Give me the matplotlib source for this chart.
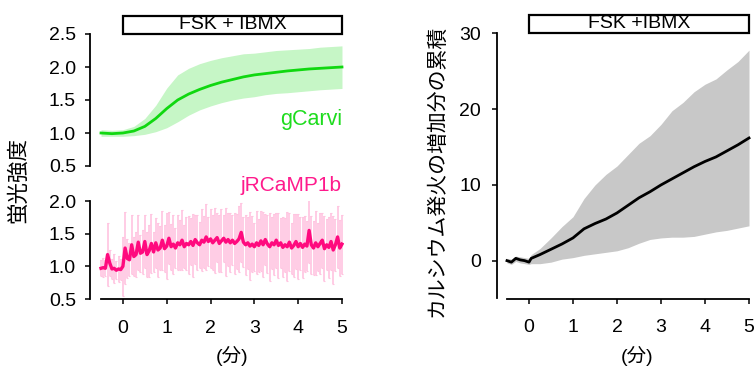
import matplotlib
matplotlib.use('Agg')

import matplotlib.pyplot as plt
import matplotlib.transforms as mtransforms
from matplotlib.patches import Rectangle
import numpy as np

plt.rcParams['font.family'] = ['Liberation Sans', 'Noto Sans CJK JP']

# gCarvi (green) mean and band, every 0.25 min
gc_t = [-0.5, -0.25, 0, 0.25, 0.5, 0.75, 1.0, 1.25, 1.5, 1.75, 2.0, 2.25,
        2.5, 2.75, 3.0, 3.25, 3.5, 3.75, 4.0, 4.25, 4.5, 4.75, 5.0]
gc_mean = [1.00, 0.99, 1.00, 1.03, 1.10, 1.22, 1.37, 1.50, 1.59, 1.66, 1.72, 1.77,
           1.81, 1.85, 1.88, 1.90, 1.92, 1.94, 1.955, 1.97, 1.98, 1.99, 2.00]
gc_upper = [1.05, 1.04, 1.05, 1.10, 1.22, 1.42, 1.68, 1.88, 1.98, 2.05, 2.10, 2.14,
            2.17, 2.20, 2.21, 2.23, 2.25, 2.26, 2.27, 2.28, 2.30, 2.31, 2.32]
gc_lower = [0.95, 0.95, 0.95, 0.96, 0.98, 1.02, 1.08, 1.17, 1.27, 1.35, 1.41, 1.46,
            1.50, 1.53, 1.55, 1.58, 1.60, 1.61, 1.625, 1.64, 1.655, 1.665, 1.675]

# jRCaMP1b (pink) mean and error, every 0.05 min from -0.5
jr_mean = [0.97, 0.98, 0.97, 1.18, 1.05, 0.96, 0.97, 0.94, 0.96, 0.95,
           1.00, 1.28, 1.12, 1.10, 1.33, 1.15, 1.18, 1.37, 1.20, 1.22,
           1.38, 1.18, 1.24, 1.35, 1.22, 1.36, 1.25, 1.28, 1.40, 1.27,
           1.31, 1.43, 1.30, 1.34, 1.28, 1.36, 1.33, 1.40, 1.30, 1.35,
           1.33, 1.38, 1.32, 1.41, 1.36, 1.33, 1.40, 1.37, 1.45, 1.38,
           1.42, 1.36, 1.40, 1.44, 1.35, 1.39, 1.43, 1.37, 1.41, 1.36,
           1.40, 1.35, 1.38, 1.42, 1.52, 1.37, 1.33, 1.36, 1.31, 1.34,
           1.30, 1.36, 1.32, 1.39, 1.33, 1.41, 1.34, 1.30, 1.36, 1.33,
           1.40, 1.32, 1.36, 1.29, 1.33, 1.30, 1.37, 1.28, 1.32, 1.38,
           1.30, 1.35, 1.29, 1.34, 1.31, 1.55, 1.33, 1.28, 1.36, 1.30,
           1.35, 1.40, 1.27, 1.33, 1.29, 1.38, 1.25, 1.33, 1.45, 1.28, 1.34]
jr_err = [0.12, 0.15, 0.12, 0.48, 0.20, 0.15, 0.22, 0.14, 0.20, 0.16,
          0.45, 0.55, 0.30, 0.25, 0.45, 0.30, 0.35, 0.42, 0.28, 0.33,
          0.40, 0.35, 0.40, 0.45, 0.30, 0.38, 0.42, 0.33, 0.45, 0.36,
          0.50, 0.40, 0.35, 0.45, 0.30, 0.42, 0.38, 0.46, 0.33, 0.40,
          0.44, 0.36, 0.48, 0.38, 0.42, 0.35, 0.47, 0.40, 0.50, 0.37,
          0.45, 0.42, 0.50, 0.38, 0.44, 0.48, 0.36, 0.52, 0.40, 0.45,
          0.38, 0.47, 0.42, 0.50, 0.45, 0.38, 0.46, 0.40, 0.52, 0.43,
          0.37, 0.48, 0.41, 0.46, 0.50, 0.39, 0.44, 0.52, 0.40, 0.47,
          0.42, 0.50, 0.38, 0.46, 0.41, 0.53, 0.44, 0.39, 0.48, 0.42,
          0.50, 0.40, 0.47, 0.43, 0.38, 0.50, 0.44, 0.41, 0.49, 0.37,
          0.46, 0.42, 0.50, 0.39, 0.47, 0.44, 0.52, 0.40, 0.48, 0.43, 0.45]
jr_t = np.arange(len(jr_mean)) * 0.05 - 0.5

# cumulative calcium firing increase (black) with gray band
cum_t = [-0.5, -0.4, -0.3, -0.2, -0.1, 0, 0.05, 0.25, 0.5, 0.75, 1.0, 1.25, 1.5,
         1.75, 2.0, 2.25, 2.5, 2.75, 3.0, 3.25, 3.5, 3.75, 4.0, 4.25, 4.5, 4.75, 5.0]
cum_mean = [0.0, -0.2, 0.3, 0.1, 0.0, -0.2, 0.3, 0.8, 1.5, 2.2, 3.0, 4.2, 4.9,
            5.5, 6.3, 7.3, 8.3, 9.1, 10.0, 10.8, 11.6, 12.4, 13.1, 13.7, 14.5, 15.3, 16.2]
cum_upper = [0.3, 0.2, 0.6, 0.5, 0.4, 0.3, 0.8, 1.6, 3.0, 4.5, 5.8, 8.2, 10.0,
             11.4, 12.5, 14.0, 15.5, 16.5, 18.0, 19.8, 20.9, 22.3, 23.3, 24.0, 25.2, 26.3, 27.8]
cum_lower = [-0.3, -0.5, -0.1, -0.3, -0.4, -0.5, -0.4, -0.4, -0.2, 0.2, 0.4, 0.7, 0.9,
             1.1, 1.3, 1.7, 2.3, 2.8, 3.0, 3.1, 3.1, 3.2, 3.5, 3.8, 4.0, 4.3, 4.6]

W, H = 755, 367
fig = plt.figure(figsize=(W / 100, H / 100), dpi=100)


def px_axes(left, top, right, bottom):
    return fig.add_axes([left / W, 1 - bottom / H, (right - left) / W, (bottom - top) / H])


def style(ax, ybounds, bottom=True, ypad=6.5):
    for s in ['top', 'right']:
        ax.spines[s].set_visible(False)
    ax.spines['left'].set_bounds(*ybounds)
    ax.spines['left'].set_linewidth(1.3)
    if bottom:
        ax.spines['bottom'].set_bounds(-0.5, 5)
        ax.spines['bottom'].set_linewidth(1.3)
        ax.set_xticks([0, 1, 2, 3, 4, 5])
    else:
        ax.spines['bottom'].set_visible(False)
        ax.set_xticks([])
    ax.tick_params(axis='both', direction='out', length=3.6, width=1.1, labelsize=14)
    ax.tick_params(axis='x', pad=11.5)
    ax.tick_params(axis='y', pad=ypad)


def drug_box(ax, h_axes):
    tr = mtransforms.blended_transform_factory(ax.transData, ax.transAxes)
    ax.add_patch(Rectangle((0, 1.003), 5, 18 / h_axes, transform=tr, clip_on=False,
                           facecolor='white', edgecolor='black', lw=1.6))
    return tr


# left top: gCarvi
ax1 = px_axes(90, 34, 344, 166)
ax1.fill_between(gc_t, gc_lower, gc_upper, color='#c6f6c6', lw=0)
ax1.plot(gc_t, gc_mean, color='#10d810', lw=2.0)
ax1.set_xlim(-0.751, 5.046)
ax1.set_ylim(0.5, 2.5)
ax1.set_yticks([0.5, 1.0, 1.5, 2.0, 2.5])
ax1.set_yticklabels(['0.5', '1.0', '1.5', '2.0', '2.5'])
style(ax1, (0.5, 2.5), bottom=False)
tr = drug_box(ax1, 132)
ax1.text(2.5, 1.003 + 9 / 132, 'FSK + IBMX', transform=tr, ha='center', va='center', fontsize=14)
ax1.text(5.0, 1.2, 'gCarvi', color='#1edc1e', fontsize=15.5, ha='right', va='center')

# left bottom: jRCaMP1b
ax2 = px_axes(90, 201, 344, 299)
ax2.errorbar(jr_t, jr_mean, yerr=jr_err, fmt='none', ecolor='#ffc4e0', elinewidth=1.2,
             capsize=1.0, capthick=0.8)
ax2.plot(jr_t, jr_mean, color='#ff0a7e', lw=2.4)
ax2.set_xlim(-0.751, 5.046)
ax2.set_ylim(0.5, 2.0)
ax2.set_yticks([0.5, 1.0, 1.5, 2.0])
ax2.set_yticklabels(['0.5', '1.0', '1.5', '2.0'])
style(ax2, (0.5, 2.0))
ax2.text(5.0, 2.23, 'jRCaMP1b', color='#ff1a8c', fontsize=15, ha='right', va='center',
         clip_on=False)

# right: cumulative increase
ax3 = px_axes(497, 33.5, 752, 298.5)
ax3.fill_between(cum_t, cum_lower, cum_upper, color='#c8c8c8', lw=0)
ax3.plot(cum_t, cum_mean, color='black', lw=2.0)
ax3.set_xlim(-0.727, 5.068)
ax3.set_ylim(-5, 30)
ax3.set_yticks([0, 10, 20, 30])
style(ax3, (-5, 30), ypad=8)
tr3 = drug_box(ax3, 265)
ax3.text(2.5, 1.003 + 9 / 265, 'FSK +IBMX', transform=tr3, ha='center', va='center', fontsize=14)

fig.text(19 / W, 1 - 180 / H, '蛍光強度', rotation=90, ha='center', va='center', fontsize=15.5)
fig.text(437 / W, 1 - 171 / H, 'カルシウム発火の増加分の累積', rotation=90, ha='center',
         va='center', fontsize=15)
fig.text(232 / W, 1 - 356 / H, '(分)', ha='center', va='center', fontsize=14)
fig.text(637 / W, 1 - 356 / H, '(分)', ha='center', va='center', fontsize=14)

fig.savefig('out.png', dpi=100)
